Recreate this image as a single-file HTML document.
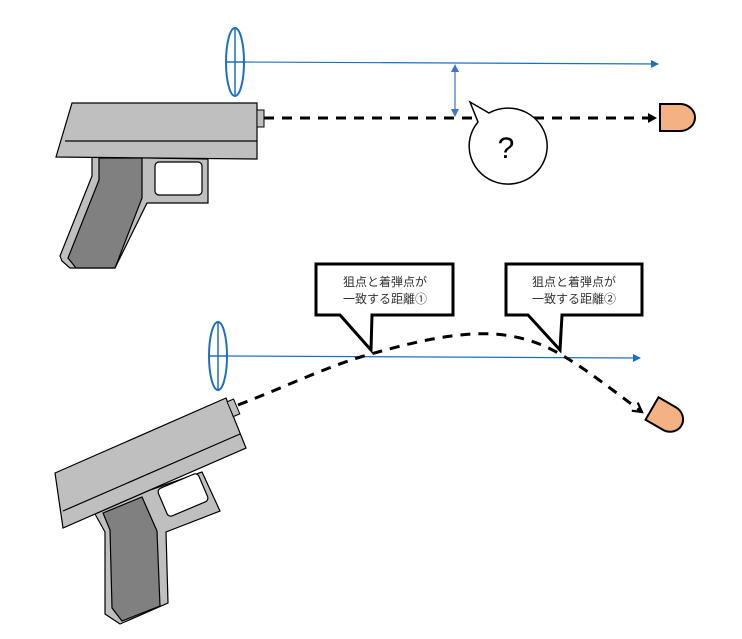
<!DOCTYPE html>
<html><head><meta charset="utf-8"><style>
html,body{margin:0;padding:0;background:#fff;}
svg{display:block;}
text{font-family:"Liberation Sans","Noto Sans CJK JP",sans-serif;}
</style></head><body>
<svg width="742" height="639" viewBox="0 0 742 639" xmlns="http://www.w3.org/2000/svg">
<defs>
<marker id="ba" markerWidth="8" markerHeight="8" refX="7" refY="4" orient="auto" markerUnits="userSpaceOnUse"><path d="M0,0 L8,4 L0,8 Z" fill="#1f6fc0"/></marker>
<marker id="ka" markerWidth="10" markerHeight="10" refX="8" refY="5" orient="auto" markerUnits="userSpaceOnUse"><path d="M0,0 L9,5 L0,10 Z" fill="#000"/></marker>
<marker id="ko" markerWidth="12" markerHeight="12" refX="10" refY="6" orient="auto" markerUnits="userSpaceOnUse"><path d="M1,1 L10,6 L1,11" fill="none" stroke="#000" stroke-width="2.2"/></marker>
<marker id="sa" markerWidth="8" markerHeight="8" refX="4" refY="7" orient="auto" markerUnits="userSpaceOnUse"><path d="M0,0 L4,8 L8,0 Z" fill="#4472c4" transform="rotate(0)"/></marker>
</defs>

<!-- TOP -->
<line x1="244" y1="62" x2="658" y2="64" stroke="#1f6fc0" stroke-width="1.2" marker-end="url(#ba)"/>
<ellipse cx="235" cy="62" rx="9" ry="34" fill="none" stroke="#1f6fc0" stroke-width="2"/>
<line x1="226" y1="62" x2="244" y2="62" stroke="#1f6fc0" stroke-width="1.5"/>
<line x1="235" y1="28" x2="235" y2="96" stroke="#1f6fc0" stroke-width="1.5"/>

<line x1="264" y1="118" x2="656" y2="118" stroke="#000" stroke-width="3" stroke-dasharray="10,8" marker-end="url(#ka)"/>
<path d="M660,104 L680,104 A15,13.5 0 0 1 680,131 L660,131 Z" fill="#f4b183" stroke="#000" stroke-width="2"/>

<line x1="455" y1="70" x2="455" y2="110" stroke="#4472c4" stroke-width="1.2"/>
<path d="M451,72 L455,64 L459,72 Z" fill="#4472c4"/>
<path d="M451,109 L455,117 L459,109 Z" fill="#4472c4"/>

<path d="M470,102 L489,113 A39,38 0 1 1 478,122 Z" fill="#fff" stroke="#000" stroke-width="1.5"/>
<text x="506" y="158" font-size="30" text-anchor="middle">?</text>

<!-- top gun -->
<polygon points="92,157 92,176 60,256 62,261 70,268 115,268 147,203 208,203 208,159" fill="#bfbfbf" stroke="#000" stroke-width="1.2"/>
<polygon points="99,158 142,158 142,198 115,268 76,268 68,258 99,180" fill="#808080" stroke="#000" stroke-width="1.2"/>
<rect x="155" y="162" width="47" height="33" rx="4" fill="#fff" stroke="#000" stroke-width="1.2"/>
<polygon points="72,103 257,103 257,159 56,157" fill="#bfbfbf" stroke="#000" stroke-width="1.2"/>
<line x1="65" y1="141" x2="257" y2="141" stroke="#000" stroke-width="1.2"/>
<rect x="257" y="110" width="7" height="17" fill="#bfbfbf" stroke="#000" stroke-width="1"/>

<!-- BOTTOM -->
<line x1="227" y1="356" x2="640" y2="358" stroke="#1f6fc0" stroke-width="1.2" marker-end="url(#ba)"/>
<ellipse cx="218" cy="356" rx="9" ry="34" fill="none" stroke="#1f6fc0" stroke-width="2"/>
<line x1="209" y1="356" x2="227" y2="356" stroke="#1f6fc0" stroke-width="1.5"/>
<line x1="218" y1="322" x2="218" y2="390" stroke="#1f6fc0" stroke-width="1.5"/>

<path d="M238,405 C290,385 330,365 371,354 C420,340 460,332 495,334 C530,337 550,348 565,357 C590,372 615,392 642,412" fill="none" stroke="#000" stroke-width="3" stroke-dasharray="10,8" marker-end="url(#ko)"/>
<g transform="translate(665,416) rotate(30)">
<path d="M-15,-13 L5,-13 A14,13 0 0 1 5,13 L-15,13 Z" fill="#f4b183" stroke="#000" stroke-width="2"/>
</g>

<!-- callouts -->
<path d="M316,264 L453,264 L453,315 L372,315 L371,350 L340,315 L316,315 Z" fill="#fff" stroke="#000" stroke-width="3"/>
<text x="385" y="286" font-size="12" text-anchor="middle" fill="#333">狙点と着弾点が</text>
<text x="385" y="303" font-size="12" text-anchor="middle" fill="#333">一致する距離①</text>
<path d="M506,264 L642,264 L642,315 L562,315 L560,350 L528,315 L506,315 Z" fill="#fff" stroke="#000" stroke-width="3"/>
<text x="574" y="286" font-size="12" text-anchor="middle" fill="#333">狙点と着弾点が</text>
<text x="574" y="303" font-size="12" text-anchor="middle" fill="#333">一致する距離②</text>

<!-- bottom gun -->
<polygon points="95,514 105,532 105,614 120,624 168,603 166,532 220,511 202,472 150,490" fill="#bfbfbf" stroke="#000" stroke-width="1.2"/>
<polygon points="103,513 142,497 157,531 160,606 122,621 112,608 110,530" fill="#808080" stroke="#000" stroke-width="1.2"/>
<g transform="translate(183,495) rotate(-23)">
<rect x="-22" y="-15" width="44" height="30" rx="4" fill="#fff" stroke="#000" stroke-width="1.2"/>
</g>
<polygon points="55,473 226,398 246,448 63,528" fill="#bfbfbf" stroke="#000" stroke-width="1.2"/>
<line x1="63" y1="511" x2="240" y2="434" stroke="#000" stroke-width="1.2"/>
<g transform="translate(233,408) rotate(-23)">
<rect x="-3" y="-8" width="7" height="16" fill="#bfbfbf" stroke="#000" stroke-width="1"/>
</g>
</svg>
</body></html>
